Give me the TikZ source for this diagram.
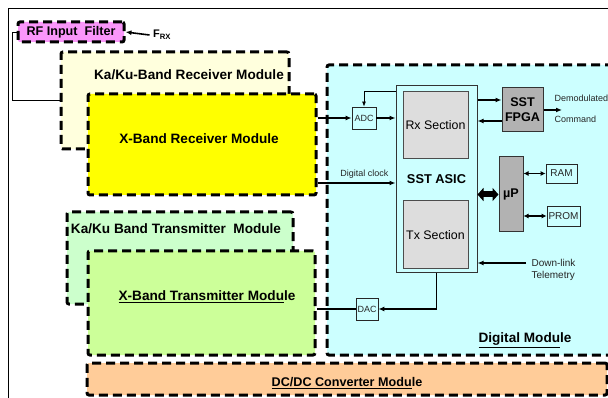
\documentclass[tikz,border=0pt]{standalone}
\usepackage{fontspec}
\setmainfont{Liberation Sans}
\usetikzlibrary{arrows.meta,positioning,calc}
\definecolor{rfpink}{RGB}{250,150,250}
\definecolor{karxyellow}{RGB}{255,255,221}
\definecolor{xrxyellow}{RGB}{255,255,0}
\definecolor{katxgreen}{RGB}{204,255,204}
\definecolor{xtxgreen}{RGB}{204,255,153}
\definecolor{dcorange}{RGB}{255,204,153}
\definecolor{digcyan}{RGB}{204,255,255}
\definecolor{sectiongray}{RGB}{221,221,221}
\definecolor{chipgray}{RGB}{178,178,178}

\begin{document}
\begin{tikzpicture}[x=1pt,y=-1pt,
  module/.style={draw=black,line width=3pt,dash pattern=on 9pt off 5pt,rounded corners=2pt,inner sep=0pt},
  modlabel/.style={font={\fontsize{13.6}{15}\selectfont\bfseries},align=center},
  smalllabel/.style={font={\fontsize{9}{10.5}\selectfont},text=black!85,align=left},
  smallbox/.style={draw=black!85,line width=0.8pt,inner sep=0pt,font={\fontsize{9}{10}\selectfont},text=black!85},
  asicbox/.style={draw=black!80,line width=1pt,fill=digcyan,inner sep=0pt,font={\fontsize{12.8}{14}\selectfont\bfseries}},
  section/.style={draw=black!70,line width=1pt,fill=sectiongray,inner sep=0pt,font={\fontsize{12.4}{14}\selectfont}},
  chip/.style={draw=black!80,line width=1pt,fill=chipgray,inner sep=0pt,align=center,font={\fontsize{12.6}{15}\selectfont\bfseries}},
  arrow/.style={-{Latex[length=6pt,width=5pt]},line width=1.2pt},
  dblarrow/.style={{Latex[length=5pt,width=5pt]}-{Latex[length=5pt,width=5pt]},line width=1.2pt},
  fatarrow/.style={{Triangle[length=6pt,width=13pt]}-{Triangle[length=6pt,width=13pt]},line width=6pt}
]
\useasboundingbox (0,0) rectangle (608,398);
\clip (0,0) rectangle (608,398);
\draw[line width=1pt] (8,9) rectangle (630,420);

% Digital module and power supply
\node[module,fill=digcyan,minimum width=303pt,minimum height=290pt] (digital) at (478.5,210) {};
\node[modlabel] (digitallabel) at (525,340) {\underline{Digital Modu}le};
\node[module,fill=dcorange,minimum width=520pt,minimum height=32pt] (dcdc) at (347,379) {};
\node[modlabel,font={\fontsize{12.6}{14}\selectfont\bfseries}] (dcdclabel) at (347,383) {\underline{DC/DC Converter Modu}le};

% Receive chain
\node[module,fill=rfpink,minimum width=106pt,minimum height=20pt,font={\fontsize{12.6}{14}\selectfont\bfseries}] (rf) at (71,32) {RF Input~ Filter};
\node[font={\fontsize{11}{12}\selectfont\bfseries}] (frx) at (162,35) {F\textsubscript{RX}};
\node[module,fill=karxyellow,minimum width=228pt,minimum height=97pt] (karx) at (175,100.5) {};
\node[modlabel] (karxlabel) at (189,75) {Ka/Ku-Band Receiver Module};
\node[module,fill=xrxyellow,minimum width=228pt,minimum height=101pt] (xrx) at (202,144.5) {};
\node[modlabel] (xrxlabel) at (199,139) {X-Band Receiver Module};

% Transmit chain
\node[module,fill=katxgreen,minimum width=226pt,minimum height=92pt] (katx) at (180,258) {};
\node[modlabel] (katxlabel) at (176,229) {Ka/Ku Band Transmitter~ Module};
\node[module,fill=xtxgreen,minimum width=227pt,minimum height=104pt] (xtx) at (201.5,303) {};
\node[modlabel] (xtxlabel) at (207,297) {\underline{X-Band Transmitter Modu}le};

% SST ASIC with its sections and the parts round it
\node[asicbox,minimum width=81pt,minimum height=187pt] (asic) at (436.5,179.5) {SST ASIC};
\node[section,minimum width=65pt,minimum height=67pt] (rxsec) at (435.5,125.5) {Rx Section};
\node[section,minimum width=65pt,minimum height=68pt] (txsec) at (435.5,235) {Tx Section};
\node[smallbox,minimum width=24pt,minimum height=22pt] (adc) at (364,118) {ADC};
\node[smallbox,minimum width=22pt,minimum height=22pt] (dac) at (367,309) {DAC};
\node[chip,minimum width=41pt,minimum height=44pt] (fpga) at (522.5,110) {SST\\FPGA};
\node[chip,minimum width=24pt,minimum height=75pt] (up) at (511,194.5) {\textmu P};
\node[smallbox,minimum width=31pt,minimum height=19pt,font={\fontsize{10}{11}\selectfont}] (ram) at (561.5,173.5) {RAM};
\node[smallbox,minimum width=33pt,minimum height=20pt,font={\fontsize{10}{11}\selectfont}] (prom) at (563.5,216) {PROM};

% Connectors
\draw[line width=0.8pt] (rf.west) -- ++(-4,0) |- (karx.west);
\draw[arrow,line width=1.6pt] (frx.west) -- (rf.east);
\draw[arrow] (adc.west -| xrx.east) -- (adc.west);
\draw[arrow] (adc.east) -- (adc.east -| asic.west);
\draw[-{Latex[length=5pt,width=4pt]},line width=0.8pt] (asic.west |- rxsec.north) -| (adc.north);
\coordinate (clk) at ([yshift=-3.5pt]asic.west);
\draw[arrow] (clk -| xrx.east) -- (clk) node[smalllabel,pos=0.6,above=1pt] {Digital clock};
\coordinate (fpgain) at ([yshift=10pt]fpga.west);
\coordinate (fpgaout) at ([yshift=-11pt]fpga.west);
\draw[arrow] (fpgain -| asic.east) -- (fpgain);
\draw[arrow] (fpgaout) -- (fpgaout -| asic.east);
\coordinate (cmd) at (562,110);
\draw[arrow] (fpga.east) -- (cmd);
\node[smalllabel,anchor=west] (demod) at (551,98) {Demodulated};
\node[smalllabel,anchor=west] (command) at (551,119) {Command};
\draw[fatarrow] (up.west -| asic.east) -- (up.west);
\draw[dblarrow] (up.east |- ram.west) -- (ram.west);
\draw[dblarrow] (up.east |- prom.west) -- (prom.west);
\coordinate (tlm) at (526,263);
\draw[arrow] (tlm) -- (tlm -| asic.east);
\node[smalllabel,anchor=north west,font={\fontsize{10}{12}\selectfont}] (tlmlabel) at (528,256) {Down-link\\Telemetry};
\draw[arrow] (asic.south) |- (dac.east);
\draw[line width=1.2pt] (dac.west) -- (dac.west -| xtx.east);
\end{tikzpicture}
\end{document}
